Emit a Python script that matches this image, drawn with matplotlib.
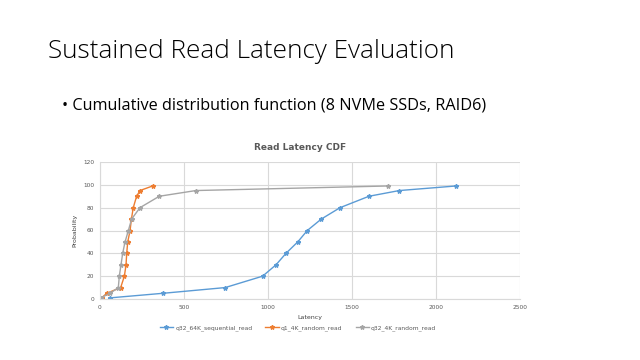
import matplotlib
matplotlib.use('Agg')
import matplotlib.pyplot as plt

# latency (x) / probability (y) pairs
seq_lat = [60, 375, 745, 968, 1048, 1107, 1177, 1234, 1317, 1429, 1601, 1782, 2119]
seq_prob = [1, 5, 10, 20, 30, 40, 50, 60, 70, 80, 90, 95, 99]

q1_lat = [10, 40, 123, 145, 155, 159, 165, 179, 187, 198, 218, 238, 313]
q1_prob = [1, 5, 10, 20, 30, 40, 50, 60, 70, 80, 90, 95, 99]

q32_lat = [4, 60, 109, 115, 125, 135, 149, 169, 188, 238, 353, 571, 1716]
q32_prob = [1, 5, 10, 20, 30, 40, 50, 60, 70, 80, 90, 95, 99]

series_names = ['q32_64K_sequential_read', 'q1_4K_random_read', 'q32_4K_random_read']
colors = ['#5b9bd5', '#ed7d31', '#a5a5a5']

fig = plt.figure(figsize=(6.4, 3.6), dpi=100)
fig.patch.set_facecolor('white')

fig.text(48 / 640, 1 - 52 / 360, 'Sustained Read Latency Evaluation',
         fontsize=18.8, family='Open Sans', fontweight='light', color='#000000', va='center')
fig.text(62 / 640, 1 - 105 / 360, '\u2022 Cumulative distribution function (8 NVMe SSDs, RAID6)',
         fontsize=11.7, family='Open Sans', color='#000000', va='center')

ax = fig.add_axes([100 / 640, 1 - 299 / 360, 420 / 640, 137 / 360])
for (xs, ys), name, c in zip([(seq_lat, seq_prob), (q1_lat, q1_prob), (q32_lat, q32_prob)],
                             series_names, colors):
    ax.plot(xs, ys, color=c, lw=1.0, marker='*', markersize=3.2, label=name)

ax.set_xlim(0, 2500)
ax.set_ylim(0, 120)
ax.set_xticks(range(0, 2501, 500))
ax.set_yticks(range(0, 121, 20))
ax.grid(color='#d9d9d9', lw=0.8)
ax.set_axisbelow(True)
for s in ['top', 'right']:
    ax.spines[s].set_visible(False)
ax.spines['left'].set_color('#d9d9d9')
ax.spines['bottom'].set_color('#d9d9d9')
ax.tick_params(length=0, labelsize=4.2, labelcolor='#595959', pad=4)
ax.set_xlabel('Latency', fontsize=4.5, color='#404040', labelpad=4)
ax.set_ylabel('Probability', fontsize=4.5, color='#404040', labelpad=4)
fig.text(300 / 640, 1 - 148 / 360, 'Read Latency CDF', fontsize=6.5, color='#595959',
         fontweight='bold', ha='center', va='center')
ax.legend(loc='center', bbox_to_anchor=(298 / 640, 1 - 328 / 360), bbox_transform=fig.transFigure,
          ncol=3, frameon=False, fontsize=4.3, labelcolor='#595959', handlelength=2.2,
          handletextpad=0.4, columnspacing=2.2)

fig.savefig('out.png', dpi=100)
